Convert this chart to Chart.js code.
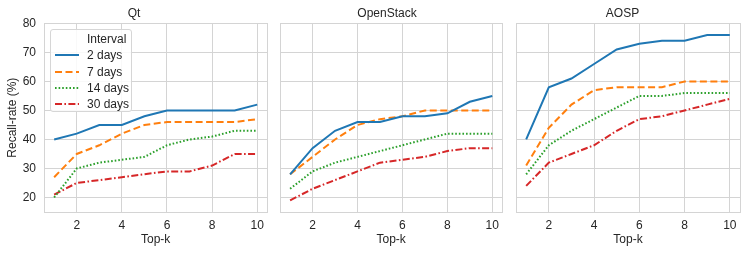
<!DOCTYPE html>
<html>
<head>
<meta charset="utf-8">
<script src="https://cdn.jsdelivr.net/npm/chart.js@4.4.1/dist/chart.umd.min.js"></script>
<style>
  body { margin: 0; background: #fff; font-family: "Liberation Sans", Arial, sans-serif; }
  #wrap { position: relative; width: 748px; height: 254px; }
  .panel { position: absolute; top: 0; height: 254px; }
  #legend {
    position: absolute; left: 50px; top: 29px; width: 82px; height: 83px;
    border: 1px solid #d6d6d6; border-radius: 3px; background: rgba(255,255,255,0.85);
    box-sizing: border-box; font-size: 12px; color: #262626;
  }
  .legend-row { position: absolute; left: 0; height: 16px; line-height: 16px; width: 100%; }
  .legend-row svg { position: absolute; left: 3px; top: 0; }
  .legend-row span { position: absolute; left: 36px; top: 0; white-space: nowrap; }
</style>
</head>
<body>
<div id="wrap">
  <div class="panel" style="left:0px;width:270px"><canvas id="qtChart" width="270" height="254"></canvas></div>
  <div class="panel" style="left:270px;width:235px"><canvas id="osChart" width="235" height="254"></canvas></div>
  <div class="panel" style="left:505px;width:243px"><canvas id="aospChart" width="243" height="254"></canvas></div>
  <div id="legend"></div>
</div>
<script>
// Top-k values on the x axis
const topK = [1, 2, 3, 4, 5, 6, 7, 8, 9, 10];
const xTicks = [2, 4, 6, 8, 10];
const yTicks = [20, 30, 40, 50, 60, 70, 80];

const intervals = ['2 days', '7 days', '14 days', '30 days'];

// Qt
const qt2 = [40, 42, 45, 45, 48, 50, 50, 50, 50, 52];
const qt7 = [27, 35, 38, 42, 45, 46, 46, 46, 46, 47];
const qt14 = [20, 30, 32, 33, 34, 38, 40, 41, 43, 43];
const qt30 = [21, 25, 26, 27, 28, 29, 29, 31, 35, 35];

// OpenStack
const os2 = [28, 37, 43, 46, 46, 48, 48, 49, 53, 55];
const os7 = [28, 34, 40, 45, 47, 48, 50, 50, 50, 50];
const os14 = [23, 29, 32, 34, 36, 38, 40, 42, 42, 42];
const os30 = [19, 23, 26, 29, 32, 33, 34, 36, 37, 37];

// AOSP
const aosp2 = [40, 58, 61, 66, 71, 73, 74, 74, 76, 76];
const aosp7 = [31, 44, 52, 57, 58, 58, 58, 60, 60, 60];
const aosp14 = [28, 38, 43, 47, 51, 55, 55, 56, 56, 56];
const aosp30 = [24, 32, 35, 38, 43, 47, 48, 50, 52, 54];

const colors = ['#1f77b4', '#ff7f0e', '#2ca02c', '#d62728'];
const dashes = [[], [7, 3.5], [1.6, 2], [7, 2.4, 1.6, 2.4]];

const textColor = '#262626';
const gridColor = '#d4d4d4';
const fontFamily = '"Liberation Sans", Arial, sans-serif';

// light grey frame around the plot area (seaborn whitegrid look)
const framePlugin = {
    id: 'frame',
    beforeDatasetsDraw(chart) {
        const { ctx, chartArea } = chart;
        ctx.save();
        ctx.strokeStyle = gridColor;
        ctx.lineWidth = 1;
        ctx.strokeRect(Math.round(chartArea.left) + 0.5, Math.round(chartArea.top) + 0.5,
            Math.round(chartArea.right - chartArea.left), Math.round(chartArea.bottom - chartArea.top));
        ctx.restore();
    }
};

const makeChart = (canvasId, title, series, yWidth, rightPad, showY) => {
    const ctx = document.getElementById(canvasId).getContext('2d');
    return new Chart(ctx, {
        type: 'line',
        data: {
            datasets: series.map((values, i) => ({
                label: intervals[i],
                data: values.map((v, j) => ({ x: topK[j], y: v })),
                borderColor: colors[i],
                backgroundColor: colors[i],
                borderWidth: 2,
                borderDash: dashes[i],
                pointRadius: 0,
                tension: 0,
                fill: false,
            })),
        },
        options: {
            responsive: false,
            animation: false,
            layout: { padding: { top: 0, right: rightPad, bottom: 0, left: 0 } },
            plugins: {
                legend: { display: false },
                tooltip: { enabled: false },
                title: {
                    display: true,
                    text: title,
                    color: textColor,
                    font: { family: fontFamily, size: 12, weight: 'normal' },
                    padding: { top: 6, bottom: 3 },
                },
            },
            scales: {
                x: {
                    type: 'linear',
                    min: 0.55,
                    max: 10.45,
                    afterBuildTicks: (scale) => { scale.ticks = xTicks.map(v => ({ value: v })); },
                    afterFit: (scale) => { scale.height = 42; },
                    border: { color: gridColor },
                    grid: { color: gridColor, drawTicks: false },
                    ticks: {
                        color: textColor,
                        padding: 6,
                        maxRotation: 0,
                        font: { family: fontFamily, size: 12 },
                    },
                    title: {
                        display: true,
                        text: 'Top-k',
                        color: textColor,
                        font: { family: fontFamily, size: 12 },
                        padding: { top: 0, bottom: 7 },
                    },
                },
                y: {
                    type: 'linear',
                    min: 15,
                    max: 80,
                    afterBuildTicks: (scale) => { scale.ticks = yTicks.map(v => ({ value: v })); },
                    afterFit: (scale) => { scale.width = yWidth; },
                    border: { color: gridColor },
                    grid: { color: gridColor, drawTicks: false },
                    ticks: {
                        display: showY,
                        color: textColor,
                        padding: 8,
                        font: { family: fontFamily, size: 12 },
                    },
                    title: {
                        display: showY,
                        text: 'Recall-rate (%)',
                        color: textColor,
                        font: { family: fontFamily, size: 12 },
                        padding: { top: 5, bottom: 0 },
                    },
                },
            },
        },
        plugins: [framePlugin],
    });
};

makeChart('qtChart', 'Qt', [qt2, qt7, qt14, qt30], 44, 2, true);
makeChart('osChart', 'OpenStack', [os2, os7, os14, os30], 10, 1, false);
makeChart('aospChart', 'AOSP', [aosp2, aosp7, aosp14, aosp30], 11, 8, false);

// legend inside the Qt panel
const renderLegend = () => {
    const legend = document.getElementById('legend');
    legend.innerHTML = '';
    const rows = ['Interval'].concat(intervals);
    rows.forEach((name, i) => {
        const row = document.createElement('div');
        row.className = 'legend-row';
        row.style.top = (1 + i * 16.3) + 'px';
        if (i > 0) {
            const svg = document.createElementNS('http://www.w3.org/2000/svg', 'svg');
            svg.setAttribute('width', '26');
            svg.setAttribute('height', '16');
            const line = document.createElementNS('http://www.w3.org/2000/svg', 'line');
            line.setAttribute('x1', '1');
            line.setAttribute('x2', '25');
            line.setAttribute('y1', '8');
            line.setAttribute('y2', '8');
            line.setAttribute('stroke', colors[i - 1]);
            line.setAttribute('stroke-width', '2');
            if (dashes[i - 1].length) line.setAttribute('stroke-dasharray', dashes[i - 1].join(' '));
            svg.appendChild(line);
            row.appendChild(svg);
        }
        const label = document.createElement('span');
        label.textContent = name;
        row.appendChild(label);
        legend.appendChild(row);
    });
};
renderLegend();
</script>
</body>
</html>
